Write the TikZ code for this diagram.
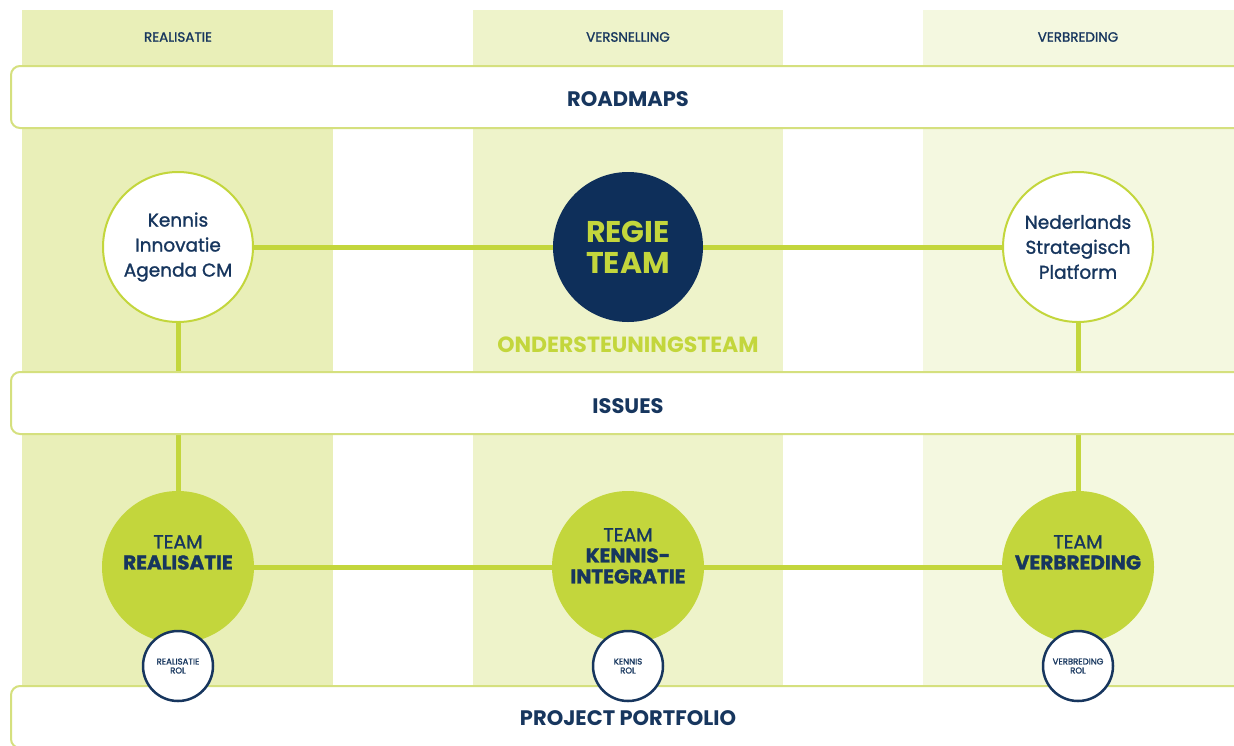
\documentclass[tikz,border=0pt]{standalone}
\usepackage{fontspec}
\setmainfont{Poppins}
\newfontfamily\medfont[FakeBold=1.3]{Poppins}
\definecolor{navy}{HTML}{17365E}
\definecolor{deepnavy}{HTML}{0E2F5A}
\definecolor{lime}{HTML}{C3D63C}
\definecolor{barline}{HTML}{D5E07E}
\definecolor{stripeA}{HTML}{E9EFB8}
\definecolor{stripeB}{HTML}{EEF3CA}
\definecolor{stripeC}{HTML}{F4F8E0}
\newcommand\tmbold{\fontsize{20}{21.5}\selectfont\bfseries}
\newcommand\teamlines[2][8pt]{\raisebox{#1}[0pt][0pt]{\begin{tabular}{@{}c@{}}#2\end{tabular}}}
\pgfdeclarelayer{stripes}
\pgfdeclarelayer{links}
\pgfdeclarelayer{bars}
\pgfsetlayers{stripes,links,bars,main}
\begin{document}
\begin{tikzpicture}[x=1pt,y=-1pt,
  bar/.style={draw=barline,line width=2pt,fill=white,rounded corners=9pt,minimum width=1240pt,minimum height=62pt,anchor=west},
  bartext/.style={text=navy,font=\fontsize{21}{24}\selectfont\bfseries},
  coltext/.style={text=navy,font=\medfont\fontsize{13.5}{16}\selectfont},
  link/.style={draw=lime,line width=5pt},
  whitecirc/.style={circle,draw=lime,line width=2pt,fill=white,minimum size=150pt,inner sep=0pt,align=center,text=navy,font=\medfont\fontsize{18.5}{25}\selectfont},
  regiecirc/.style={circle,fill=deepnavy,minimum size=150pt,inner sep=0pt,align=center,text=lime,font=\fontsize{30}{31}\selectfont\bfseries},
  teamcirc/.style={circle,fill=lime,minimum size=152pt,inner sep=0pt,align=center,text=navy,font=\medfont\fontsize{19}{21.5}\selectfont},
  rolcirc/.style={circle,draw=navy,line width=2.5pt,fill=white,minimum size=70pt,inner sep=0pt,align=center,text=navy,font=\medfont\fontsize{8.5}{9}\selectfont}
]
\useasboundingbox (0,0) rectangle (1234,745);
\begin{pgfonlayer}{stripes}
\fill[white] (0,0) rectangle (1234,745);
\fill[stripeA] (22,10) rectangle (333,745);
\fill[stripeB] (473,10) rectangle (783,745);
\fill[stripeC] (923,10) rectangle (1234,745);
\end{pgfonlayer}
% column labels
\node[coltext] (lbA) at (178,37) {REALISATIE};
\node[coltext] (lbB) at (628,37) {VERSNELLING};
\node[coltext] (lbC) at (1078,37) {VERBREDING};
% circles
\node[whitecirc] (kia) at (178,247) {Kennis\\Innovatie\\Agenda CM};
\node[regiecirc] (regie) at (628,247) {REGIE\\TEAM};
\node[whitecirc] (nsp) at (1078,247) {Nederlands\\Strategisch\\Platform};
\node[text=lime,font=\fontsize{22}{24}\selectfont\bfseries] (ost) at (628,345) {ONDERSTEUNINGSTEAM};
\node[teamcirc] (tr) at (178,567) {\teamlines{TEAM\\[-0.5pt]{\tmbold REALISATIE}}};
\node[teamcirc] (tk) at (628,567) {\teamlines[4.5pt]{TEAM\\[-0.5pt]{\tmbold KENNIS-}\\[-0.5pt]{\tmbold INTEGRATIE}}};
\node[teamcirc] (tv) at (1078,567) {\teamlines{TEAM\\[-0.5pt]{\tmbold VERBREDING}}};
% role circles
\node[rolcirc] (rr) at (178,666) {REALISATIE\\ROL};
\node[rolcirc] (rk) at (628,666) {KENNIS\\ROL};
\node[rolcirc] (rv) at (1078,666) {VERBREDING\\ROL};
% connectors
\begin{pgfonlayer}{links}
\draw[link] (kia) -- (regie);
\draw[link] (regie) -- (nsp);
\draw[link] (tr) -- (tk);
\draw[link] (tk) -- (tv);
\draw[link] (kia) -- (tr);
\draw[link] (nsp) -- (tv);
\end{pgfonlayer}
% bars
\begin{pgfonlayer}{bars}
\node[bar] (road) at (10,97) {};
\node[bar] (iss) at (10,403) {};
\node[bar] (pp) at (10,717) {};
\end{pgfonlayer}
\node[bartext] (roadt) at (628,99) {ROADMAPS};
\node[bartext] (isst) at (628,406) {ISSUES};
\node[bartext] (ppt) at (628,718) {PROJECT PORTFOLIO};
\end{tikzpicture}
\end{document}
